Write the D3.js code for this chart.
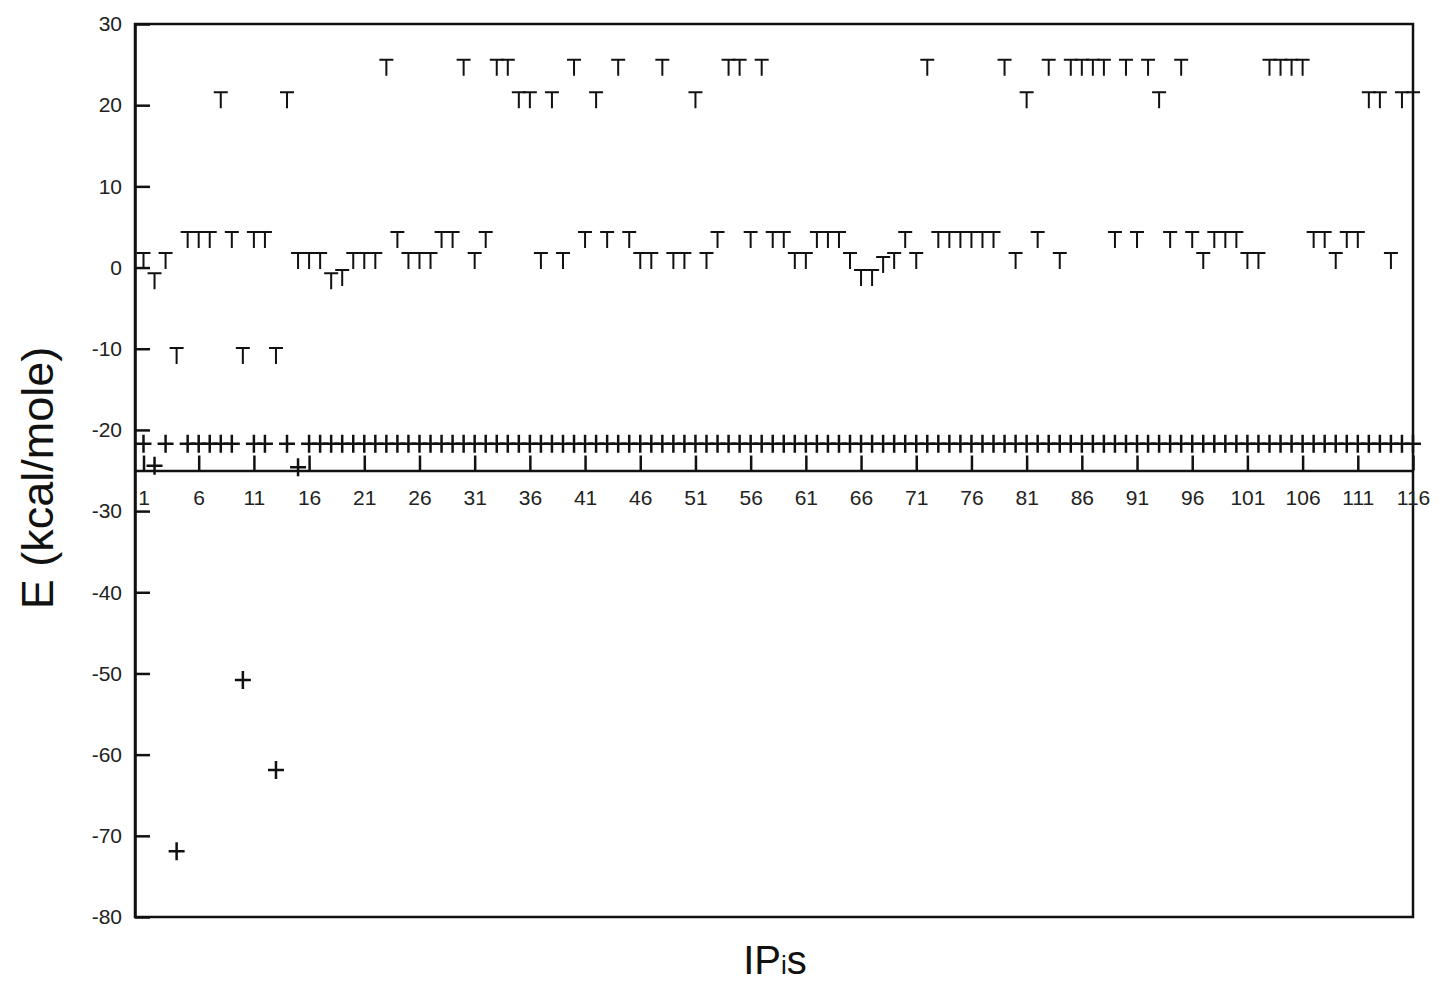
<!DOCTYPE html>
<html>
<head>
<meta charset="utf-8">
<script src="https://d3js.org/d3.v7.min.js"></script>
<style>
body { margin: 0; background: #fff; }
svg { display: block; font-family: Arial, 'Liberation Sans', sans-serif; }
.axis path, .axis line { stroke: #111; stroke-width: 2.5; }
.axis text { font-size: 21px; fill: #222; }
</style>
</head>
<body>
<div id="plot"></div>
<script>

var width = 1441;
var height = 984;

// one value per IP, index 1..116
var ipIndex = d3.range(1, 117);

// "T" series (kcal/mole)
var tValues = [
  0.8, -1.7, 0.8, -10.9, 3.4, 3.4, 3.4, 20.6, 3.4, -10.9,
  3.4, 3.4, -10.9, 20.6, 0.8, 0.8, 0.8, -1.7, -1.3, 0.8,
  0.8, 0.8, 24.6, 3.4, 0.8, 0.8, 0.8, 3.4, 3.4, 24.6,
  0.8, 3.4, 24.6, 24.6, 20.6, 20.6, 0.8, 20.6, 0.8, 24.6,
  3.4, 20.6, 3.4, 24.6, 3.4, 0.8, 0.8, 24.6, 0.8, 0.8,
  20.6, 0.8, 3.4, 24.6, 24.6, 3.4, 24.6, 3.4, 3.4, 0.8,
  0.8, 3.4, 3.4, 3.4, 0.8, -1.3, -1.3, 0.3, 0.8, 3.4,
  0.8, 24.6, 3.4, 3.4, 3.4, 3.4, 3.4, 3.4, 24.6, 0.8,
  20.6, 3.4, 24.6, 0.8, 24.6, 24.6, 24.6, 24.6, 3.4, 24.6,
  3.4, 24.6, 20.6, 3.4, 24.6, 3.4, 0.8, 3.4, 3.4, 3.4,
  0.8, 0.8, 24.6, 24.6, 24.6, 24.6, 3.4, 3.4, 0.8, 3.4,
  3.4, 20.6, 20.6, 0.8, 20.6, 20.6
];

// "+" series (kcal/mole)
var plusValues = [
  -21.7, -24.4, -21.7, -71.9, -21.7, -21.7, -21.7, -21.7, -21.7, -50.8,
  -21.7, -21.7, -61.9, -21.7, -24.6, -21.7, -21.7, -21.7, -21.7, -21.7,
  -21.7, -21.7, -21.7, -21.7, -21.7, -21.7, -21.7, -21.7, -21.7, -21.7,
  -21.7, -21.7, -21.7, -21.7, -21.7, -21.7, -21.7, -21.7, -21.7, -21.7,
  -21.7, -21.7, -21.7, -21.7, -21.7, -21.7, -21.7, -21.7, -21.7, -21.7,
  -21.7, -21.7, -21.7, -21.7, -21.7, -21.7, -21.7, -21.7, -21.7, -21.7,
  -21.7, -21.7, -21.7, -21.7, -21.7, -21.7, -21.7, -21.7, -21.7, -21.7,
  -21.7, -21.7, -21.7, -21.7, -21.7, -21.7, -21.7, -21.7, -21.7, -21.7,
  -21.7, -21.7, -21.7, -21.7, -21.7, -21.7, -21.7, -21.7, -21.7, -21.7,
  -21.7, -21.7, -21.7, -21.7, -21.7, -21.7, -21.7, -21.7, -21.7, -21.7,
  -21.7, -21.7, -21.7, -21.7, -21.7, -21.7, -21.7, -21.7, -21.7, -21.7,
  -21.7, -21.7, -21.7, -21.7, -21.7, -21.7
];

var xTicks = d3.range(1, 117, 5);          // 1, 6, ..., 116
var yTicks = d3.range(-80, 31, 10);        // -80 .. 30
var xAxisAt = -25;                         // the index line sits at E = -25

var xScale = d3.scaleLinear().domain([0.23, 116]).range([135, 1413]);
var yScale = d3.scaleLinear().domain([-80, 30]).range([917, 24]);

var svg = d3.select("#plot").append("svg")
  .attr("width", width).attr("height", height);

svg.append("rect").attr("width", width).attr("height", height).attr("fill", "#fff");

// frame
svg.append("rect")
  .attr("x", xScale.range()[0]).attr("y", yScale.range()[1])
  .attr("width", xScale.range()[1] - xScale.range()[0])
  .attr("height", yScale.range()[0] - yScale.range()[1])
  .attr("fill", "none").attr("stroke", "#111").attr("stroke-width", 2.5);

// y axis, ticks inside; plain hyphen for negatives
svg.append("g").attr("class", "axis")
  .attr("transform", "translate(" + xScale.range()[0] + ",0)")
  .call(d3.axisLeft(yScale).tickValues(yTicks).tickSizeInner(-15).tickSizeOuter(0).tickPadding(13)
    .tickFormat(function(d) { return String(d); }));

// index axis drawn across the plot at E = -25, ticks pointing up
svg.append("g").attr("class", "axis")
  .attr("transform", "translate(0," + yScale(xAxisAt) + ")")
  .call(d3.axisBottom(xScale).tickValues(xTicks).tickSizeInner(-15).tickSizeOuter(0).tickPadding(20)
    .tickFormat(function(d) { return String(d); }));

// T marks
svg.selectAll(".tmark").data(ipIndex)
  .enter().append("path")
  .attr("class", "tmark")
  .attr("transform", function(d, i) { return "translate(" + xScale(d) + "," + yScale(tValues[i]) + ")"; })
  .attr("d", "M-7,-8H7M0,-8V8")
  .attr("fill", "none").attr("stroke", "#111").attr("stroke-width", 2);

// + marks
svg.selectAll(".pmark").data(ipIndex)
  .enter().append("path")
  .attr("class", "pmark")
  .attr("transform", function(d, i) { return "translate(" + xScale(d) + "," + yScale(plusValues[i]) + ")"; })
  .attr("d", "M-8,0H8M0,-9V9")
  .attr("fill", "none").attr("stroke", "#111").attr("stroke-width", 2.5);

// axis titles
svg.append("text")
  .attr("transform", "translate(53,478) rotate(-90)")
  .attr("text-anchor", "middle")
  .style("font-size", "45px").style("fill", "#111")
  .text("E (kcal/mole)");

var xt = svg.append("text")
  .attr("x", 775).attr("y", 974)
  .attr("text-anchor", "middle")
  .style("font-size", "40px").style("fill", "#111");
xt.append("tspan").text("IP");
xt.append("tspan").style("font-size", "26px").text("i");
xt.append("tspan").text("s");

</script>
</body>
</html>
